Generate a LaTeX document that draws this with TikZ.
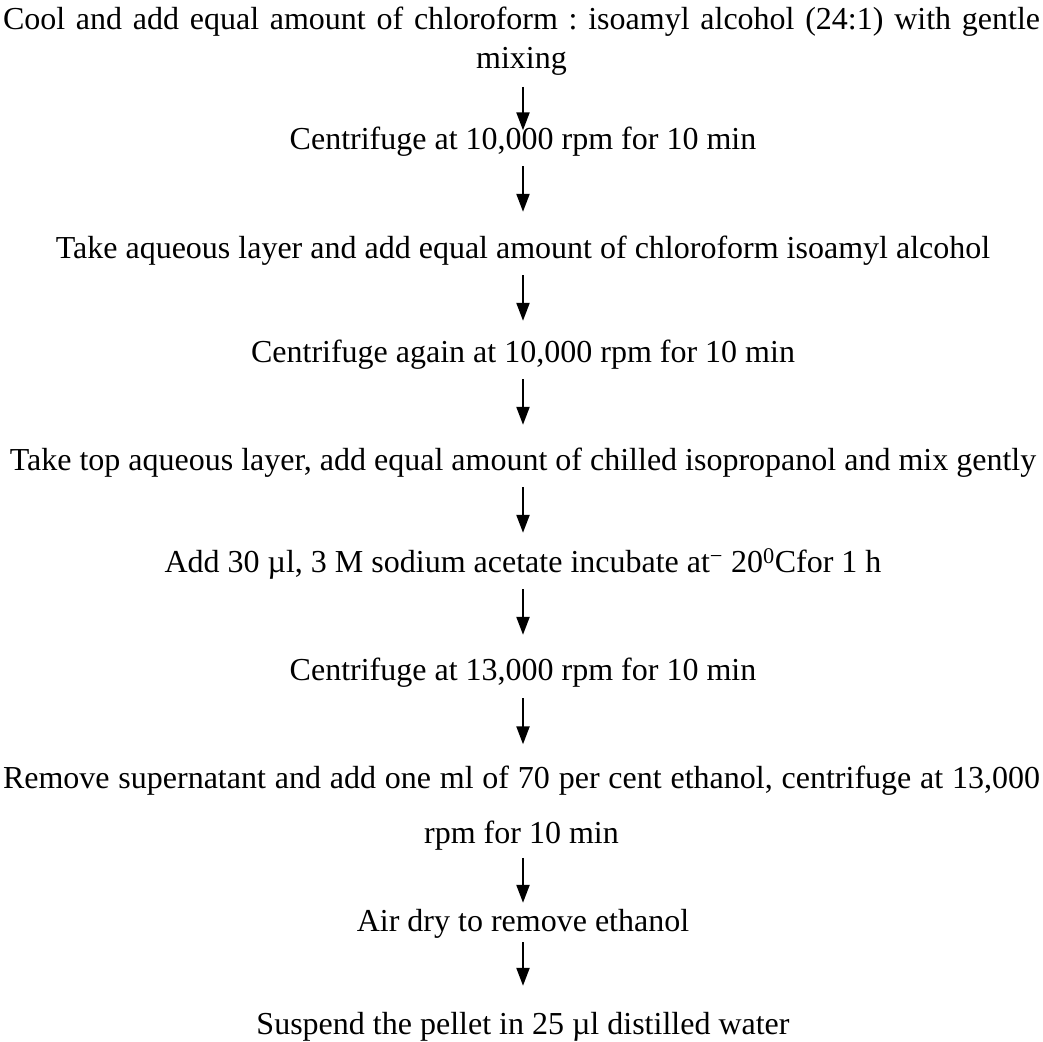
\documentclass[tikz,border=0pt]{standalone}
\usepackage{fontspec}
\setmainfont{Liberation Serif}
\usetikzlibrary{arrows.meta}

\begin{document}
\begin{tikzpicture}[x=1pt, y=-1pt,
    stepline/.style={inner sep=0pt, text height=22pt, text depth=7pt, font=\fontsize{32}{38}\selectfont},
    stepblock/.style={inner sep=0pt, align=center, text width=1037pt, anchor=north},
    flow/.style={line width=2.2pt, -{Triangle[width=13pt, length=18pt]}}]
			%%%%% START %%%%%
			\useasboundingbox (0, 0) rectangle (1043, 1041);
			
			\node[stepblock, font=\fontsize{32}{39}\selectfont\frenchspacing] (cool) at (521.5, 6.3) {\makebox[1037pt][s]{\spaceskip=0.25em plus 1fil Cool and add equal amount of chloroform : isoamyl alcohol (24:1) with gentle}\\ \makebox{mixing}};
			\node[stepline] (spinone) at (523, 142) {Centrifuge at 10,000 rpm for 10 min};
			\node[stepline] (aqueous) at (523, 251) {Take aqueous layer and add equal amount of chloroform isoamyl alcohol};
			\node[stepline] (spintwo) at (523, 355) {Centrifuge again at 10,000 rpm for 10 min};
			\node[stepline] (toplayer) at (523, 463) {Take top aqueous layer, add equal amount of chilled isopropanol and mix gently};
			\node[stepline] (acetate) at (523, 565) {Add 30 µl, 3 M sodium acetate incubate at\textsuperscript{−} 20\textsuperscript{0}Cfor 1 h};
			\node[stepline] (spinthree) at (523, 673) {Centrifuge at 13,000 rpm for 10 min};
			\node[stepblock, font=\fontsize{32}{55}\selectfont\frenchspacing] (wash) at (521.5, 765.3) {\makebox[1037pt][s]{\spaceskip=0.25em plus 1fil Remove supernatant and add one ml of 70 per cent ethanol, centrifuge at 13,000}\\ \makebox{\spaceskip=0pt rpm for 10 min}};
			\node[stepline] (airdry) at (523, 924) {Air dry to remove ethanol};
			\node[stepline] (pellet) at (523, 1027) {Suspend the pellet in 25 µl distilled water};
			
			\draw[flow, shorten <=11.8pt, shorten >=-3pt] (cool.south -| spinone) -- (spinone);
			\draw[flow, shorten <=9.5pt, shorten >=24.5pt] (spinone) -- (aqueous);
			\draw[flow, shorten <=9.5pt, shorten >=19.5pt] (aqueous) -- (spintwo);
			\draw[flow, shorten <=9.5pt, shorten >=23.5pt] (spintwo) -- (toplayer);
			\draw[flow, shorten <=9.5pt, shorten >=17.5pt] (toplayer) -- (acetate);
			\draw[flow, shorten <=9.5pt, shorten >=23.5pt] (acetate) -- (spinthree);
			\draw[flow, shorten <=10.5pt, shorten >=21pt] (spinthree) -- (wash.north -| spinthree);
			\draw[flow, shorten <=7.8pt, shorten >=6.5pt] (wash.south -| airdry) -- (airdry);
			\draw[flow, shorten <=3.5pt, shorten >=26.5pt] (airdry) -- (pellet);
			
			%%%%% END %%%%%
\end{tikzpicture}
\end{document}
